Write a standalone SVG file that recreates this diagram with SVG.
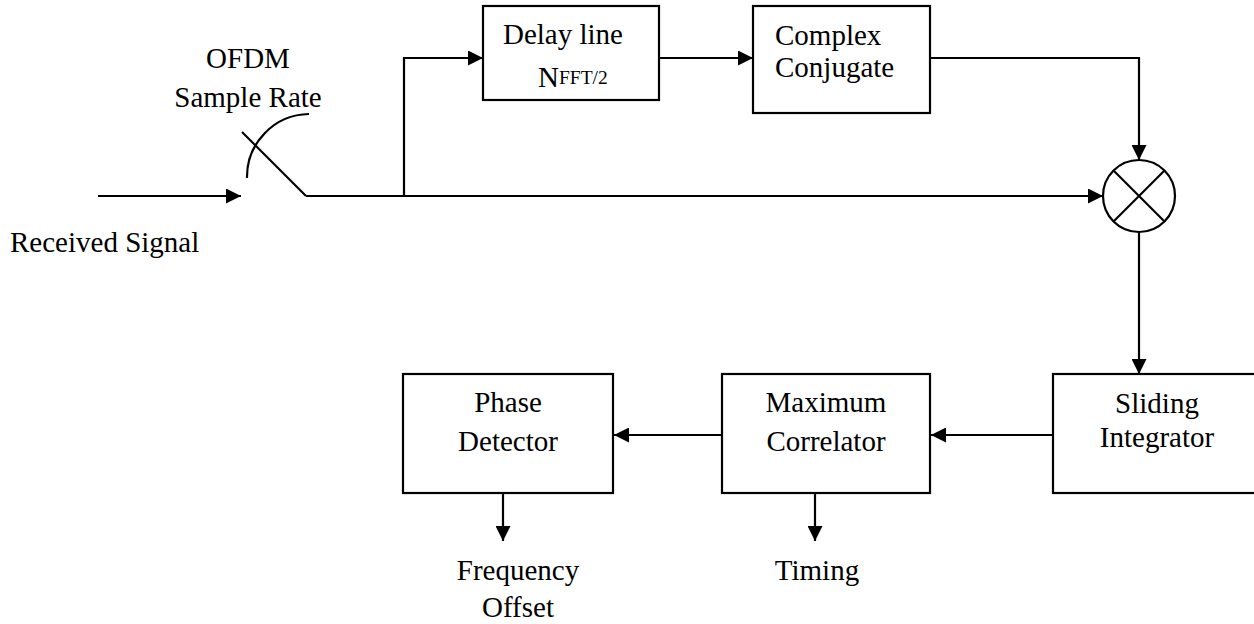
<svg xmlns="http://www.w3.org/2000/svg" width="1254" height="624" viewBox="0 0 1254 624">
<style>
.box{fill:#fff;stroke:#000;stroke-width:2.2}
.ln{fill:none;stroke:#000;stroke-width:2.2}
.ar{fill:none;stroke:#000;stroke-width:2.2;marker-end:url(#ah)}
text{font-family:"Liberation Serif","Times New Roman",serif;font-size:29px;fill:#000}
.c{text-anchor:middle}
.sub{font-size:19.5px}
</style>
<defs>
<marker id="ah" markerWidth="15" markerHeight="15" refX="15" refY="7.5" orient="auto" markerUnits="userSpaceOnUse">
<path d="M0,0 L15,7.5 L0,15 Z" fill="#000"/>
</marker>
</defs>
<rect width="1254" height="624" fill="#fff"/>
<g id="connectors">
<line class="ar" x1="98" y1="196" x2="241" y2="196"/>
<line class="ln" x1="242" y1="132" x2="306" y2="196"/>
<path class="ln" d="M247,178 A63,63 0 0 1 309,114"/>
<line class="ar" x1="306" y1="196" x2="1103" y2="196"/>
<polyline class="ar" points="404,196 404,58 483,58"/>
<line class="ar" x1="659" y1="58" x2="753" y2="58"/>
<polyline class="ar" points="930,58 1139,58 1139,160"/>
<line class="ar" x1="1139" y1="232" x2="1139" y2="374"/>
<line class="ar" x1="1053" y1="435" x2="931" y2="435"/>
<line class="ar" x1="722" y1="435" x2="614" y2="435"/>
<line class="ar" x1="503" y1="493" x2="503" y2="541"/>
<line class="ar" x1="815" y1="493" x2="815" y2="541"/>
</g>
<g id="switch-label">
<text class="c" x="248" y="68">OFDM</text>
<text class="c" x="248" y="107">Sample Rate</text>
</g>
<g id="input-label">
<text x="10" y="252">Received Signal</text>
</g>
<g id="delay">
<rect class="box" x="483" y="6" width="176" height="94"/>
<text x="503" y="44">Delay line</text>
<text x="538" y="87">N<tspan class="sub" dy="-3">FFT/2</tspan></text>
</g>
<g id="conjugate">
<rect class="box" x="753" y="6" width="177" height="107"/>
<text x="775" y="45">Complex</text>
<text x="775" y="77">Conjugate</text>
</g>
<g id="multiplier">
<circle class="box" cx="1139" cy="196" r="36"/>
<line class="ln" x1="1113.5" y1="170.5" x2="1164.5" y2="221.5"/>
<line class="ln" x1="1164.5" y1="170.5" x2="1113.5" y2="221.5"/>
</g>
<g id="sliding">
<rect class="box" x="1053" y="374" width="215" height="119"/>
<text class="c" x="1157" y="413">Sliding</text>
<text class="c" x="1157" y="447">Integrator</text>
</g>
<g id="maxcorr">
<rect class="box" x="722" y="374" width="208" height="119"/>
<text class="c" x="826" y="412">Maximum</text>
<text class="c" x="826" y="451">Correlator</text>
</g>
<g id="phase">
<rect class="box" x="403" y="374" width="210" height="119"/>
<text class="c" x="508" y="412">Phase</text>
<text class="c" x="508" y="451">Detector</text>
</g>
<g id="outputs">
<text class="c" x="518" y="580">Frequency</text>
<text class="c" x="518" y="617">Offset</text>
<text class="c" x="817" y="580">Timing</text>
</g>
</svg>
